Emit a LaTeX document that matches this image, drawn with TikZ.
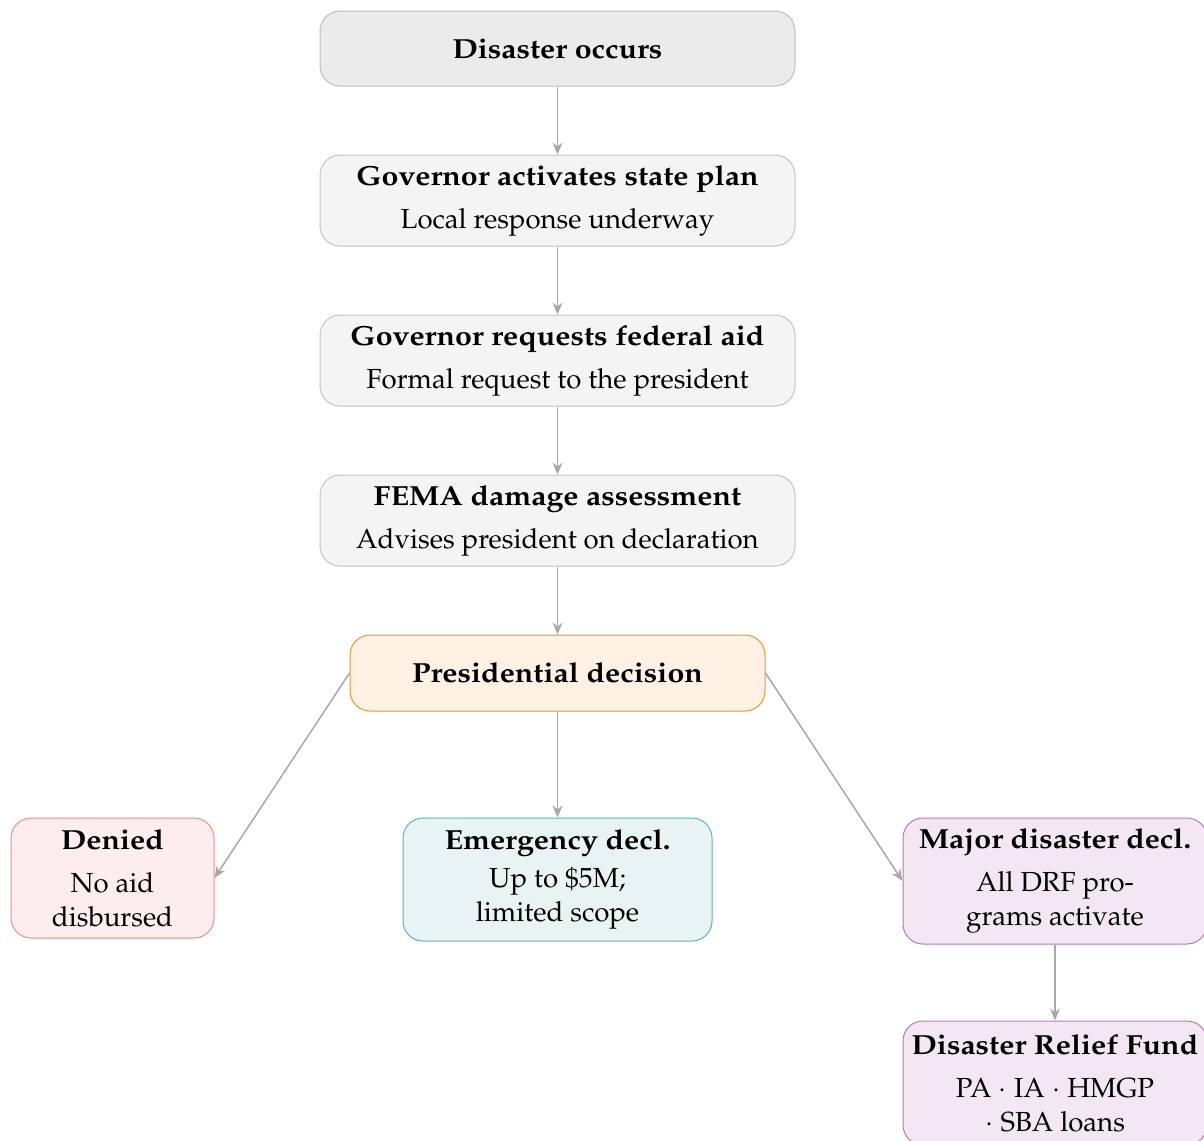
\documentclass[tikz,border=0pt]{standalone}
\usepackage[T1]{fontenc}
\usepackage{mathpazo}
\usepackage{graphicx}
\usetikzlibrary{arrows.meta}
\definecolor{grayfillA}{HTML}{EBEBEB}
\definecolor{graylineA}{HTML}{BDBDBD}
\definecolor{grayfillB}{HTML}{F4F4F4}
\definecolor{graylineB}{HTML}{C4C4C4}
\definecolor{orfill}{HTML}{FFF1E3}
\definecolor{orline}{HTML}{F0922E}
\definecolor{redfill}{HTML}{FDEDED}
\definecolor{redline}{HTML}{F28C8C}
\definecolor{tealfill}{HTML}{E8F4F4}
\definecolor{tealline}{HTML}{5FB3B3}
\definecolor{purfill}{HTML}{F3E7F3}
\definecolor{purline}{HTML}{BB77BB}
\definecolor{arrowgray}{HTML}{A8A8A8}
\newcommand{\ttl}[1]{\scalebox{1.1}[1]{\bfseries #1}}
\begin{document}
\begin{tikzpicture}[x=0.5pt,y=-0.5pt,
  box/.style={draw, rounded corners=10pt, align=center, line width=0.5pt,
    font=\fontsize{13.8}{17}\selectfont, inner sep=0pt},
  neutral/.style={box, fill=grayfillB, draw=graylineB, minimum width=237.5pt, minimum height=45.5pt},
  arr/.style={draw=arrowgray, line width=0.75pt,
    -{Stealth[length=6pt,width=5pt,inset=2pt]}}]
\useasboundingbox (0,0) rectangle (1204,1140);
\node[box, fill=grayfillA, draw=graylineA, minimum width=237.5pt, minimum height=37.5pt] (start) at (557.5,48.5) {\ttl{Disaster occurs}};
\node[neutral] (gov) at (557.5,200.5) {\ttl{Governor activates state plan}\\[4.5pt] Local response underway};
\node[neutral] (req) at (557.5,360.5) {\ttl{Governor requests federal aid}\\[4.5pt] Formal request to the president};
\node[neutral] (fema) at (557.5,520.5) {\ttl{FEMA damage assessment}\\[4.5pt] Advises president on declaration};
\node[box, fill=orfill, draw=orline, minimum width=207.5pt, minimum height=38pt] (pres) at (557.5,673) {\ttl{Presidential decision}};
\node[box, fill=redfill, draw=redline, minimum width=101.5pt, minimum height=60pt] (den) at (112.5,878) {\ttl{Denied}\\[4.5pt] No aid\\ disbursed};
\node[box, fill=tealfill, draw=tealline, minimum width=154.5pt, minimum height=61.5pt] (emg) at (557.5,879.5) {\ttl{Emergency decl.}\\[2pt] Up to \$5M;\\ limited scope};
\node[box, fill=purfill, draw=purline, minimum width=152pt, minimum height=63pt] (maj) at (1055,881) {\ttl{Major disaster decl.}\\[4.5pt] All DRF pro-\\ grams activate};
\node[box, fill=purfill, draw=purline, minimum width=152pt, minimum height=62pt] (drf) at (1055,1083) {\ttl{Disaster Relief Fund}\\[4.5pt] PA $\cdot$ IA $\cdot$ HMGP\\ $\cdot$ SBA loans};
\draw[arr] (start) -- (gov);
\draw[arr] (gov) -- (req);
\draw[arr] (req) -- (fema);
\draw[arr] (fema) -- (pres);
\draw[arr] (pres.west) -- (den.east);
\draw[arr] (pres) -- (emg);
\draw[arr] (pres.east) -- (maj.west);
\draw[arr] (maj) -- (drf);
\end{tikzpicture}
\end{document}
